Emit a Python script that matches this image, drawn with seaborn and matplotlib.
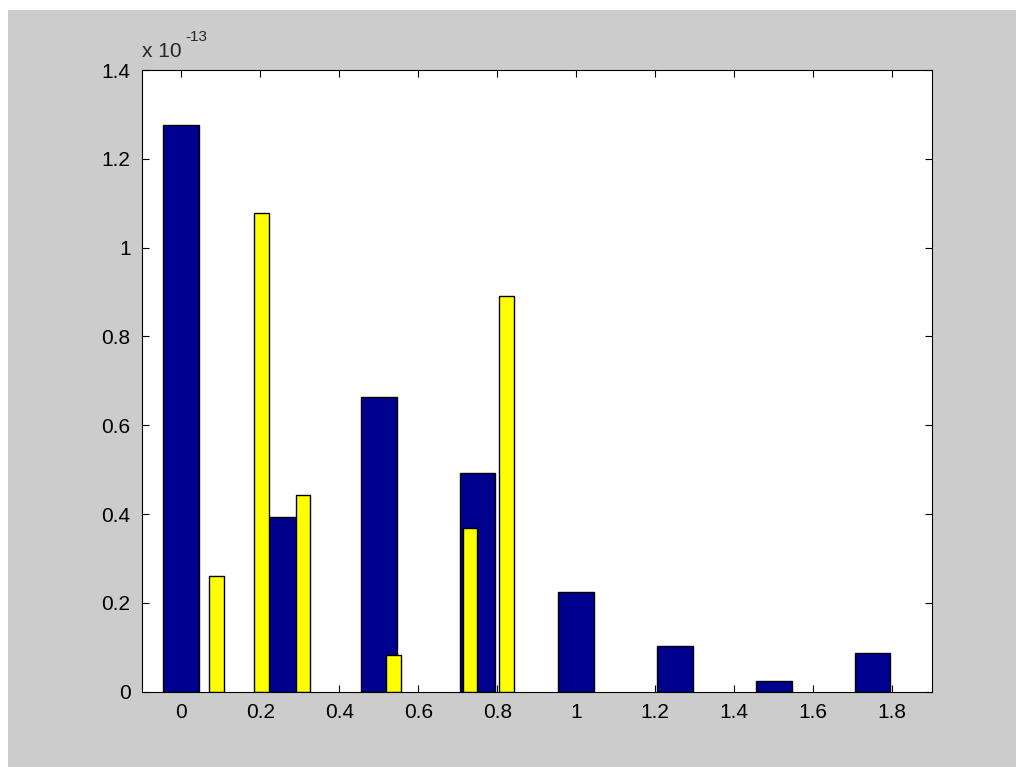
import pandas as pd
import seaborn as sns
import matplotlib.pyplot as plt
from matplotlib.patches import Rectangle

# values in units of 1e-13
blue_x = [0, 0.25, 0.5, 0.75, 1.0, 1.25, 1.5, 1.75]
blue_y = [1.276, 0.394, 0.664, 0.493, 0.225, 0.103, 0.025, 0.086]
yellow_x = [0.09, 0.2035, 0.308, 0.537, 0.731, 0.824]
yellow_y = [0.261, 1.079, 0.443, 0.082, 0.368, 0.89]

x_ticks = [0, 0.2, 0.4, 0.6, 0.8, 1.0, 1.2, 1.4, 1.6, 1.8]
x_labels = ["0", "0.2", "0.4", "0.6", "0.8", "1", "1.2", "1.4", "1.6", "1.8"]
y_ticks = [0, 0.2, 0.4, 0.6, 0.8, 1.0, 1.2, 1.4]
y_labels = ["0", "0.2", "0.4", "0.6", "0.8", "1", "1.2", "1.4"]

sns.set_style("white")
plt.rcParams['font.family'] = ['Liberation Sans', 'DejaVu Sans']

fig = plt.figure(figsize=(10.16, 7.67), dpi=100, facecolor="white")
fig.add_artist(Rectangle((8 / 1016, 0), 1 - 8 / 1016, 1 - 10 / 767,
                         transform=fig.transFigure, facecolor="#cccccc",
                         edgecolor="none", zorder=-10))
ax = fig.add_axes([0.1395, 0.0982, 0.7776, 0.8105])
ax.set_facecolor("white")

blue = pd.DataFrame({"x": blue_x, "y": blue_y})
yellow = pd.DataFrame({"x": yellow_x, "y": yellow_y})

sns.barplot(data=blue, x="x", y="y", native_scale=True, color="#00008f",
            saturation=1, edgecolor="black", linewidth=1, errorbar=None, ax=ax)
sns.barplot(data=yellow, x="x", y="y", native_scale=True, color="#ffff00",
            saturation=1, edgecolor="black", linewidth=1, errorbar=None, ax=ax)

# fix bar widths (keep centers)
for cont, w in zip(ax.containers, [0.09, 0.037]):
    for bar in cont:
        c = bar.get_x() + bar.get_width() / 2
        bar.set_width(w)
        bar.set_x(c - w / 2)

ax.set_xlim(-0.1, 1.9)
ax.set_ylim(0, 1.4)
ax.set_xticks(x_ticks)
ax.set_xticklabels(x_labels)
ax.set_yticks(y_ticks)
ax.set_yticklabels(y_labels)
ax.set_xlabel("")
ax.set_ylabel("")
ax.tick_params(direction="in", length=5, width=0.8, color="black",
               top=True, right=True, bottom=True, left=True,
               labelsize=15, pad=8, labelcolor="black")
for s in ax.spines.values():
    s.set_visible(True)
    s.set_color("black")
    s.set_linewidth(0.8)

# exponent label, MATLAB style
ax.text(0, 1.0214, "x 10", transform=ax.transAxes,
        ha="left", va="baseline", fontsize=15)
ax.text(0.0548, 1.0466, "-13", transform=ax.transAxes,
        ha="left", va="baseline", fontsize=11)

fig.savefig("out.png", dpi=100, facecolor=fig.get_facecolor())
